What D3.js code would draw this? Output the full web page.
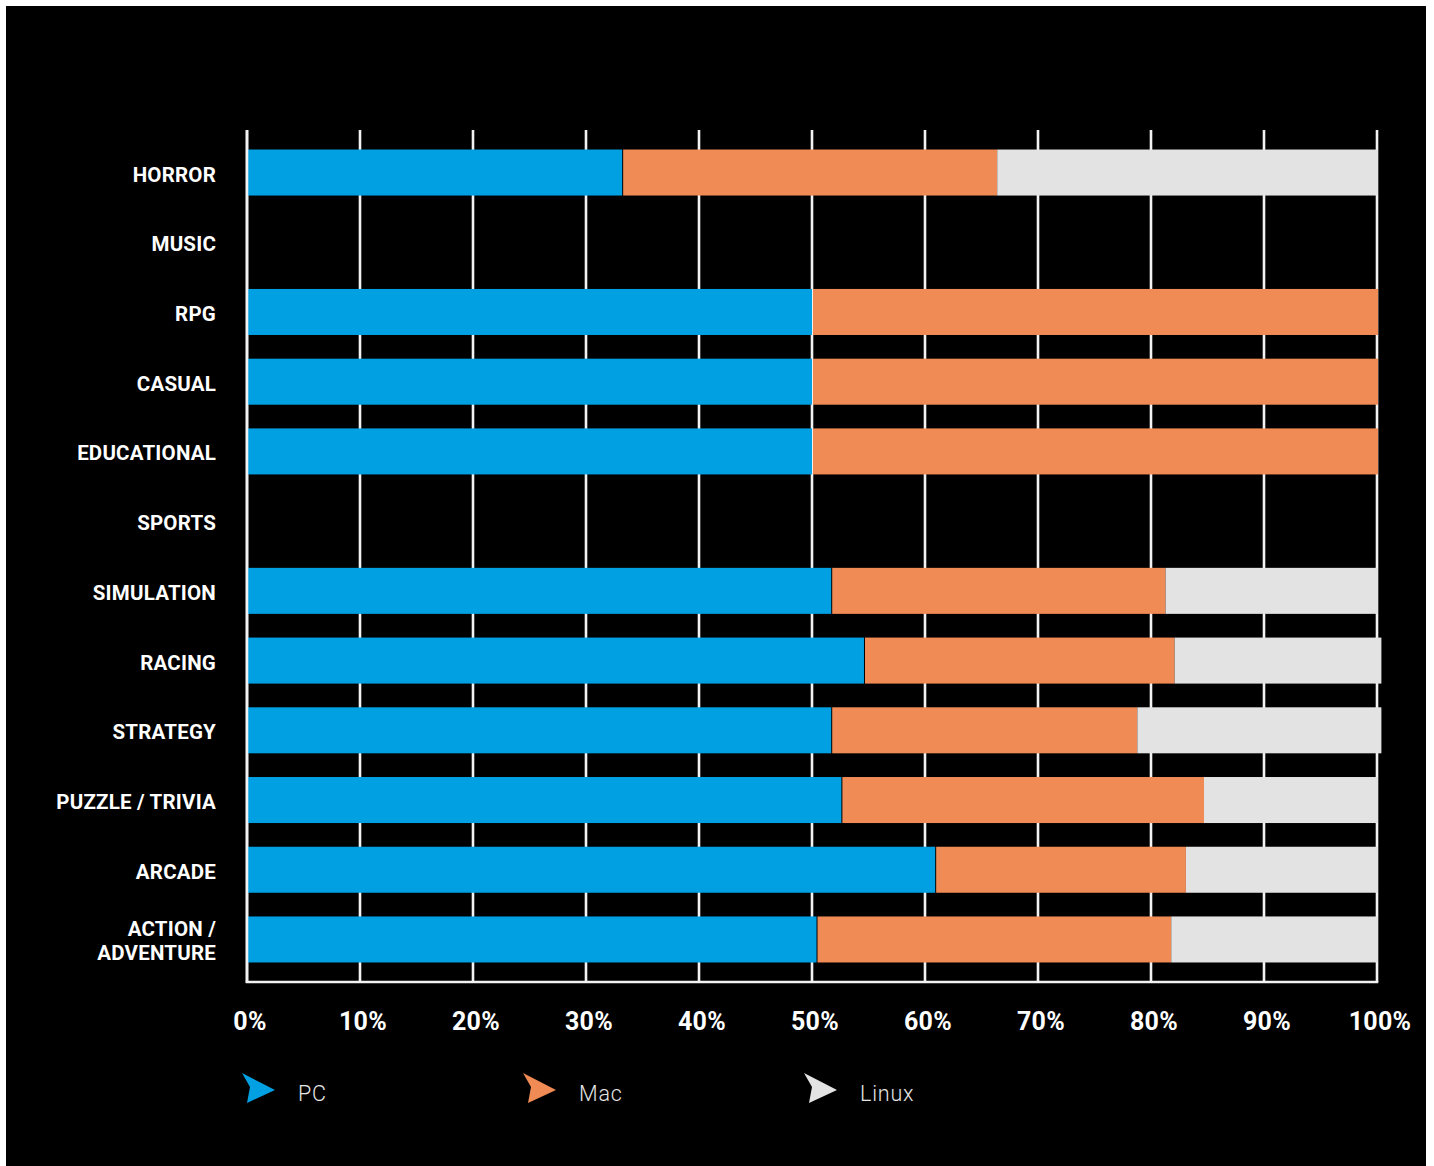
<!DOCTYPE html>
<html>
<head>
<meta charset="utf-8">
<script src="https://cdn.jsdelivr.net/npm/d3@7/dist/d3.min.js"></script>
<style>
  html, body { margin: 0; padding: 0; background: #ffffff; }
  svg { display: block; }
</style>
</head>
<body>
<svg id="chart" width="1434" height="1166"></svg>
<script>
// Genres, top to bottom
const categories = ["HORROR", "MUSIC", "RPG", "CASUAL", "EDUCATIONAL", "SPORTS",
  "SIMULATION", "RACING", "STRATEGY", "PUZZLE / TRIVIA", "ARCADE", "ACTION / ADVENTURE"];
// Platform share per genre (%)
const pcShare    = [33.2, 0, 50.0, 50.0, 50.0, 0, 51.7, 54.6, 51.7, 52.6, 60.9, 50.4];
const macShare   = [33.1, 0, 50.0, 50.0, 50.0, 0, 29.5, 27.4, 27.0, 32.0, 22.1, 31.3];
const linuxShare = [33.7, 0,  0.0,  0.0,  0.0, 0, 18.8, 18.3, 21.6, 15.4, 17.0, 18.3];
const seriesNames = ["PC", "Mac", "Linux"];
const seriesColors = ["#00a0e2", "#f18b55", "#e3e3e3"];
const tickValues = [0, 10, 20, 30, 40, 50, 60, 70, 80, 90, 100];
const tickLabels = ["0%", "10%", "20%", "30%", "40%", "50%", "60%", "70%", "80%", "90%", "100%"];

const svg = d3.select("#chart");

// dark panel
svg.append("rect").attr("x", 6).attr("y", 6).attr("width", 1420).attr("height", 1160).attr("fill", "#000");

const x = d3.scaleLinear().domain([0, 100]).range([247, 1377]);
const y = d3.scaleBand().domain(categories).range([130, 982]).paddingInner(0.34).paddingOuter(0.28);

// vertical grid lines
svg.append("g").selectAll("line").data(tickValues).join("line")
  .attr("x1", d => x(d)).attr("x2", d => x(d))
  .attr("y1", 130).attr("y2", 982)
  .attr("stroke", "#f2f2f2").attr("stroke-width", 2.6);

// stacked bars
const rows = categories.map((c, i) => ({ cat: c, PC: pcShare[i], Mac: macShare[i], Linux: linuxShare[i] }));
const stack = d3.stack().keys(seriesNames)(rows);
const color = d3.scaleOrdinal().domain(seriesNames).range(seriesColors);

svg.append("g").selectAll("g").data(stack).join("g")
  .attr("fill", d => color(d.key))
  .selectAll("rect").data(d => d).join("rect")
  .attr("x", d => x(d[0]) + 1)
  .attr("width", d => Math.max(0, x(d[1]) - x(d[0]) - (d[0] === 0 ? 1 : 0)))
  .attr("y", d => y(d.data.cat))
  .attr("height", y.bandwidth())
  .attr("display", d => d[1] - d[0] > 0 ? null : "none");

// axis frame: left and bottom
svg.append("line").attr("x1", x(0)).attr("x2", x(0)).attr("y1", 130).attr("y2", 983)
  .attr("stroke", "#f2f2f2").attr("stroke-width", 2.6);
svg.append("line").attr("x1", x(0) - 1.3).attr("x2", x(100) + 1.3).attr("y1", 982).attr("y2", 982)
  .attr("stroke", "#f2f2f2").attr("stroke-width", 2.6);

// category labels
const catG = svg.append("g")
  .attr("font-family", "Roboto, 'DejaVu Sans', sans-serif")
  .attr("font-weight", 700).attr("font-size", 20.5).attr("fill", "#ffffff")
  .attr("text-anchor", "end");
categories.forEach(c => {
  const cy = y(c) + y.bandwidth() / 2;
  const parts = c === "ACTION / ADVENTURE" ? ["ACTION /", "ADVENTURE"] : [c];
  const t = catG.append("text").attr("x", 216).attr("letter-spacing", 0.2);
  parts.forEach((p, k) => {
    const off = (k - (parts.length - 1) / 2) * 24;
    t.append("tspan").attr("x", 216).attr("y", cy + off + 9).text(p);
  });
});

// x tick labels
svg.append("g").selectAll("text").data(tickValues).join("text")
  .attr("x", d => x(d) + 3).attr("y", 1030)
  .attr("text-anchor", "middle")
  .attr("font-family", "Roboto, 'DejaVu Sans', sans-serif")
  .attr("font-weight", 700).attr("font-size", 25).attr("letter-spacing", 0.3)
  .attr("fill", "#ffffff")
  .text((d, i) => tickLabels[i]);

// legend
const legend = svg.append("g").selectAll("g").data(seriesNames).join("g")
  .attr("transform", (d, i) => `translate(${242 + i * 281},1073)`);
legend.append("path")
  .attr("d", "M0,0 L33,17 L5,30 L8,14 Z")
  .attr("fill", d => color(d));
legend.append("text")
  .attr("x", 56).attr("y", 28)
  .attr("font-family", "Roboto, 'DejaVu Sans', sans-serif")
  .attr("font-weight", 300).attr("font-size", 21.5).attr("letter-spacing", 0.8)
  .attr("fill", "#e6e6e6")
  .text(d => d);
</script>
</body>
</html>
